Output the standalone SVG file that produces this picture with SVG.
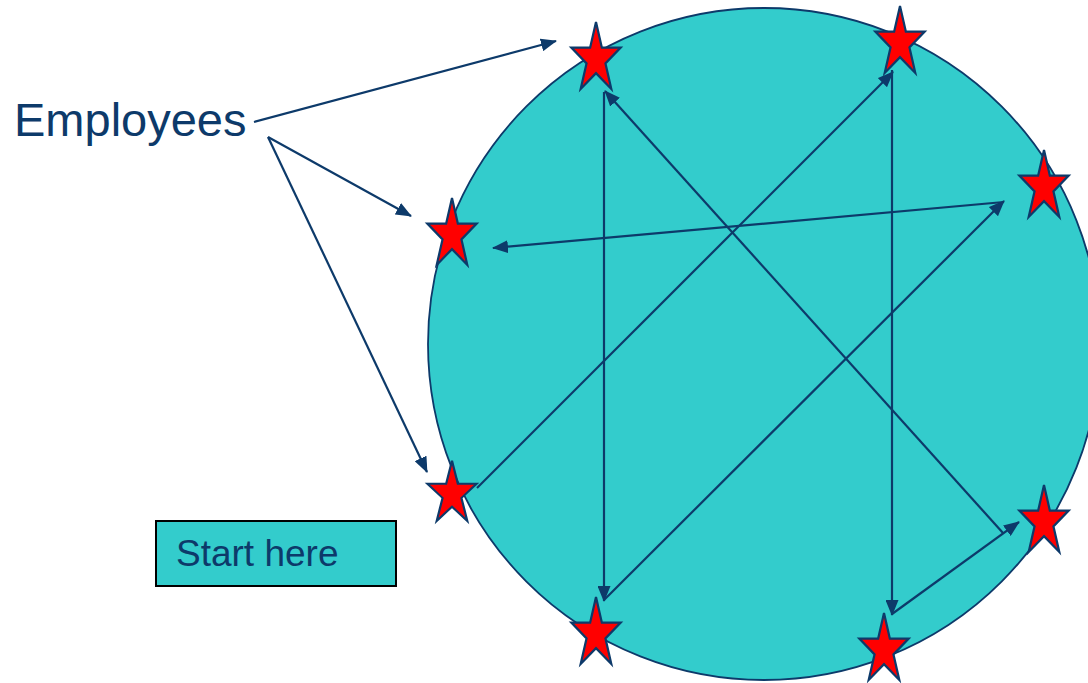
<svg xmlns="http://www.w3.org/2000/svg" width="1088" height="683" viewBox="0 0 1088 683">
<style>
.conn line{stroke:#0d3a6a;stroke-width:2.2;fill:none;marker-end:url(#ah)}
.star{fill:#ff0000;stroke:#0d3a6a;stroke-width:2.2;stroke-linejoin:miter}
.lbl{font-family:"Liberation Sans",Arial,sans-serif;fill:#0d3a6a}
</style>
<defs>
<marker id="ah" viewBox="0 0 16 13" refX="15" refY="6.5" markerWidth="16" markerHeight="13" markerUnits="userSpaceOnUse" orient="auto">
<path d="M0,0 L16,6.5 L0,13 Z" fill="#0d3a6a"/>
</marker>
<path id="st" d="M0,-37 L5.84,-11.43 L24.7,-11.4 L9.44,4.37 L15.3,29.9 L0,14.13 L-15.3,29.9 L-9.44,4.37 L-24.7,-11.4 L-5.84,-11.43 Z"/>
</defs>
<rect width="1088" height="683" fill="#ffffff"/>
<g id="circle"><circle cx="764" cy="344" r="336" fill="#33cccc" stroke="#0d3a6a" stroke-width="1.8"/></g>
<g id="connectors" class="conn">
<line x1="254" y1="122" x2="556" y2="41"/>
<line x1="268" y1="137" x2="411" y2="216"/>
<line x1="268" y1="137" x2="427" y2="472"/>
<line x1="477" y1="488" x2="893" y2="72"/>
<line x1="892" y1="70" x2="892" y2="615"/>
<line x1="892" y1="614" x2="1019" y2="522"/>
<line x1="1003" y1="533" x2="605" y2="91"/>
<line x1="604" y1="92" x2="604" y2="601"/>
<line x1="604" y1="600" x2="1004" y2="201"/>
<line x1="1004" y1="202" x2="493" y2="248"/>
</g>
<g id="star1"><use href="#st" class="star" transform="translate(596,59)"/></g>
<g id="star2"><use href="#st" class="star" transform="translate(900,43)"/></g>
<g id="star3"><use href="#st" class="star" transform="translate(452,235)"/></g>
<g id="star4"><use href="#st" class="star" transform="translate(1044,187)"/></g>
<g id="star5"><use href="#st" class="star" transform="translate(452,494) scale(1,0.9)"/></g>
<g id="star6"><use href="#st" class="star" transform="translate(1044,522)"/></g>
<g id="star7"><use href="#st" class="star" transform="translate(596,634)"/></g>
<g id="star8"><use href="#st" class="star" transform="translate(884,650)"/></g>
<g id="employees"><text class="lbl" x="14" y="136" font-size="47">Employees</text></g>
<g id="start"><rect x="156" y="521" width="240" height="65" fill="#33cccc" stroke="#000000" stroke-width="2"/>
<text class="lbl" x="176" y="566" font-size="37">Start here</text></g>
</svg>
